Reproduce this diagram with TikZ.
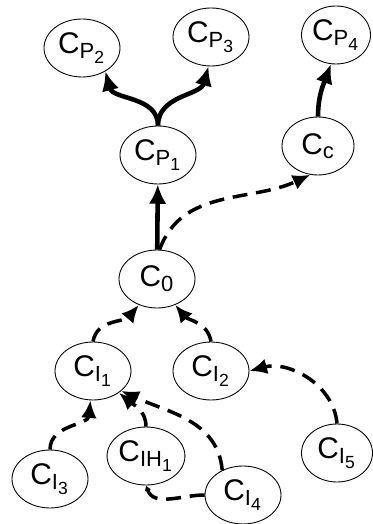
\documentclass[tikz,border=0pt]{standalone}
\usepackage{amsmath}
\usepackage{fontspec}
\setmainfont{Liberation Sans}
\usepackage{tikz}
\usetikzlibrary{shapes.geometric , arrows.meta}
\DeclareMathSizes{17}{17}{12.5}{10}

\begin{document}
\begin{tikzpicture}[x = 0.02cm , y = 0.02cm ,
    cnode/.style = {ellipse , draw , line width = 0.5pt , minimum width = 1.52cm , minimum height = 1.16cm , inner sep = 0pt , font = \fontsize{17}{20}\selectfont} ,
    solidarr/.style = {line width = 2.6pt , -{Latex[length = 11pt , width = 10pt]}} ,
    dasharr/.style = {line width = 2pt , dash pattern = on 8.5pt off 5pt , -{Latex[length = 10pt , width = 9pt]}}]
    \useasboundingbox (0,0) rectangle (372,524);
    % upper nodes
    \node[cnode] (cp2) at (82,476) {C$_{\text{P}_{\text{2}}}$};
    \node[cnode] (cp3) at (211,487) {C$_{\text{P}_{\text{3}}}$};
    \node[cnode , minimum width = 1.38cm] (cp4) at (336,489) {C$_{\text{P}_{\text{4}}}$};
    \node[cnode] (cp1) at (158,369) {C$_{\text{P}_{\text{1}}}$};
    \node[cnode , minimum width = 1.44cm] (cc) at (318,378) {C$_{\text{c}}$};
    \node[cnode] (c0) at (157,245) {C$_{\text{0}}$};
    % lower nodes
    \node[cnode] (ci1) at (93,153) {C$_{\text{I}_{\text{1}}}$};
    \node[cnode] (ci2) at (211,153) {C$_{\text{I}_{\text{2}}}$};
    \node[cnode] (ci3) at (50,45) {C$_{\text{I}_{\text{3}}}$};
    \node[cnode] (cih1) at (146,68) {C$_{\text{IH}_{\text{1}}}$};
    \node[cnode] (ci4) at (243,29) {C$_{\text{I}_{\text{4}}}$};
    \node[cnode , minimum width = 1.42cm] (ci5) at (337,71) {C$_{\text{I}_{\text{5}}}$};
    % solid arrows
    \draw[solidarr] (cp1.north) to[out = 90 , in = -75] (cp2.-45);
    \draw[solidarr] (cp1.north) to[out = 90 , in = -105] (cp3.-95);
    \draw[solidarr] (cc.north) to[out = 90 , in = -110] (cp4.-100);
    \draw[solidarr] (c0) -- (cp1);
    % dashed arrows
    \draw[dasharr] (c0.85) to[out = 70 , in = -155] (cc.-105);
    \draw[dasharr] (ci1.north) to[out = 80 , in = -130] (c0.-125);
    \draw[dasharr] (ci2.north) to[out = 100 , in = -50] (c0.-55);
    \draw[dasharr] (ci5.north) to[out = 95 , in = 15] (ci2.east);
    \draw[dasharr] (ci3.north) to[out = 90 , in = -95] (ci1.-95);
    \draw[dasharr] (cih1.north) to[out = 90 , in = -40] (ci1.-40);
    \draw[dasharr] (ci4.130) to[out = 95 , in = -25] (ci1.-35);
    \draw[dasharr , -{Latex[length = 3pt , width = 4pt]}] (ci4.west) to[out = 180 , in = -70] (cih1.-90);
\end{tikzpicture}
\end{document}
